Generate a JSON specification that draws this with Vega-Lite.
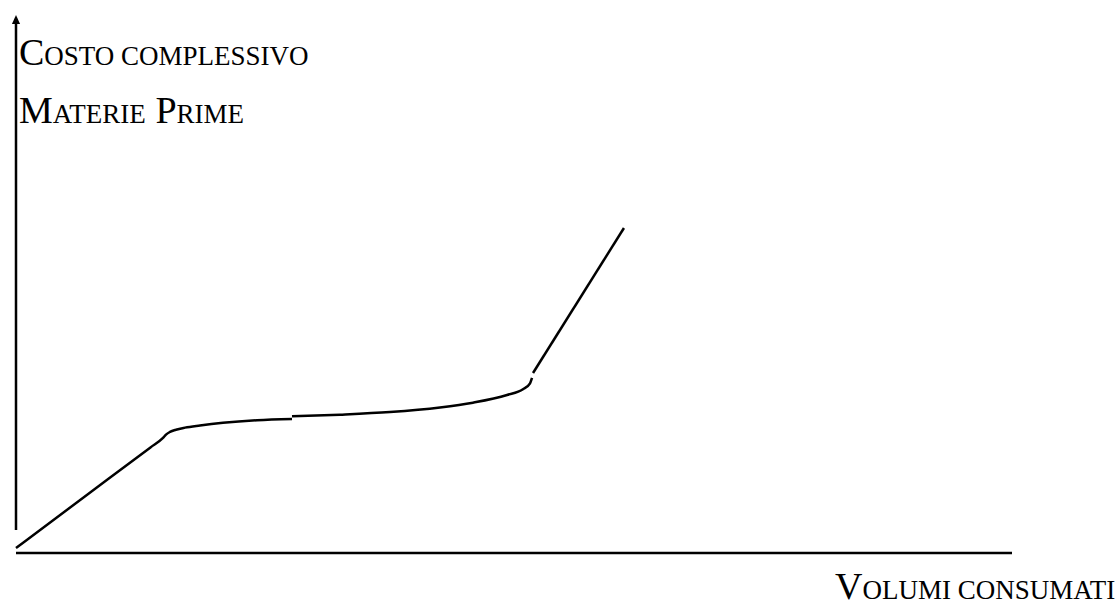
{
  "$schema": "https://vega.github.io/schema/vega-lite/v6.json",
  "width": 996,
  "height": 538,
  "autosize": "none",
  "padding": {"left": 16, "top": 15, "right": 107, "bottom": 53},
  "background": "white",
  "config": {"view": {"stroke": null}},
  "datasets": {
    "curve": [
      {"seg": "a", "volume": 0, "cost": 0.93},
      {"seg": "a", "volume": 7.38, "cost": 11.15},
      {"seg": "a", "volume": 13.5, "cost": 19.63},
      {"seg": "a", "volume": 14.76, "cost": 21.38},
      {"seg": "a", "volume": 15.06, "cost": 22.0},
      {"seg": "a", "volume": 15.46, "cost": 22.5},
      {"seg": "a", "volume": 16.06, "cost": 22.92},
      {"seg": "a", "volume": 16.97, "cost": 23.3},
      {"seg": "a", "volume": 18.47, "cost": 23.7},
      {"seg": "a", "volume": 20.78, "cost": 24.2},
      {"seg": "a", "volume": 24.2, "cost": 24.68},
      {"seg": "a", "volume": 27.71, "cost": 24.91},
      {"seg": "b", "volume": 27.71, "cost": 25.4},
      {"seg": "b", "volume": 32.53, "cost": 25.72},
      {"seg": "b", "volume": 37.55, "cost": 26.2},
      {"seg": "b", "volume": 42.57, "cost": 27.05},
      {"seg": "b", "volume": 45.88, "cost": 27.94},
      {"seg": "b", "volume": 49.3, "cost": 29.37},
      {"seg": "b", "volume": 50.9, "cost": 30.43},
      {"seg": "b", "volume": 51.61, "cost": 31.54},
      {"seg": "b", "volume": 51.81, "cost": 32.53},
      {"seg": "c", "volume": 51.91, "cost": 33.46},
      {"seg": "c", "volume": 61.04, "cost": 60.41}
    ],
    "axes": [
      {"axis": "volume", "x": 0, "x2": 100, "y": 0, "y2": 0},
      {"axis": "cost", "x": 0, "x2": 0, "y": 4.28, "y2": 99.07}
    ],
    "arrow": [
      {"x": 0, "y": 99.16}
    ],
    "bigcaps": [
      {"t": "C", "x": 0.3, "y": 90.71},
      {"t": "M", "x": 0.3, "y": 79.93},
      {"t": "P", "x": 14.01, "y": 79.93},
      {"t": "V", "x": 82.23, "y": -8.55}
    ],
    "smallcaps": [
      {"t": "OSTO COMPLESSIVO", "x": 2.84, "y": 90.71},
      {"t": "ATERIE", "x": 3.69, "y": 79.93},
      {"t": "RIME", "x": 16.12, "y": 79.93},
      {"t": "OLUMI CONSUMATI", "x": 84.98, "y": -8.55}
    ]
  },
  "layer": [
    {
      "data": {"name": "curve"},
      "mark": {"type": "line", "color": "black", "strokeWidth": 2.5, "interpolate": "monotone", "clip": false},
      "encoding": {
        "x": {"field": "volume", "type": "quantitative", "scale": {"domain": [0, 100], "nice": false, "zero": false}, "axis": null},
        "y": {"field": "cost", "type": "quantitative", "scale": {"domain": [0, 100], "nice": false, "zero": false}, "axis": null},
        "detail": {"field": "seg", "type": "nominal"}
      }
    },
    {
      "data": {"name": "axes"},
      "mark": {"type": "rule", "color": "black", "strokeWidth": 2.5},
      "encoding": {
        "x": {"field": "x", "type": "quantitative"},
        "x2": {"field": "x2"},
        "y": {"field": "y", "type": "quantitative"},
        "y2": {"field": "y2"},
        "strokeWidth": {"field": "axis", "type": "nominal", "scale": {"domain": ["volume", "cost"], "range": [2.5, 2]}, "legend": null}
      }
    },
    {
      "data": {"name": "arrow"},
      "mark": {"type": "point", "shape": "M0,-1L0.9,1L-0.9,1Z", "filled": true, "color": "black", "opacity": 1, "size": 81},
      "encoding": {
        "x": {"field": "x", "type": "quantitative"},
        "y": {"field": "y", "type": "quantitative"}
      }
    },
    {
      "data": {"name": "bigcaps"},
      "mark": {"type": "text", "font": "Liberation Serif", "fontSize": 38, "align": "left", "baseline": "alphabetic", "color": "black"},
      "encoding": {
        "x": {"field": "x", "type": "quantitative"},
        "y": {"field": "y", "type": "quantitative"},
        "text": {"field": "t"}
      }
    },
    {
      "data": {"name": "smallcaps"},
      "mark": {"type": "text", "font": "Liberation Serif", "fontSize": 27, "align": "left", "baseline": "alphabetic", "color": "black"},
      "encoding": {
        "x": {"field": "x", "type": "quantitative"},
        "y": {"field": "y", "type": "quantitative"},
        "text": {"field": "t"}
      }
    }
  ]
}
